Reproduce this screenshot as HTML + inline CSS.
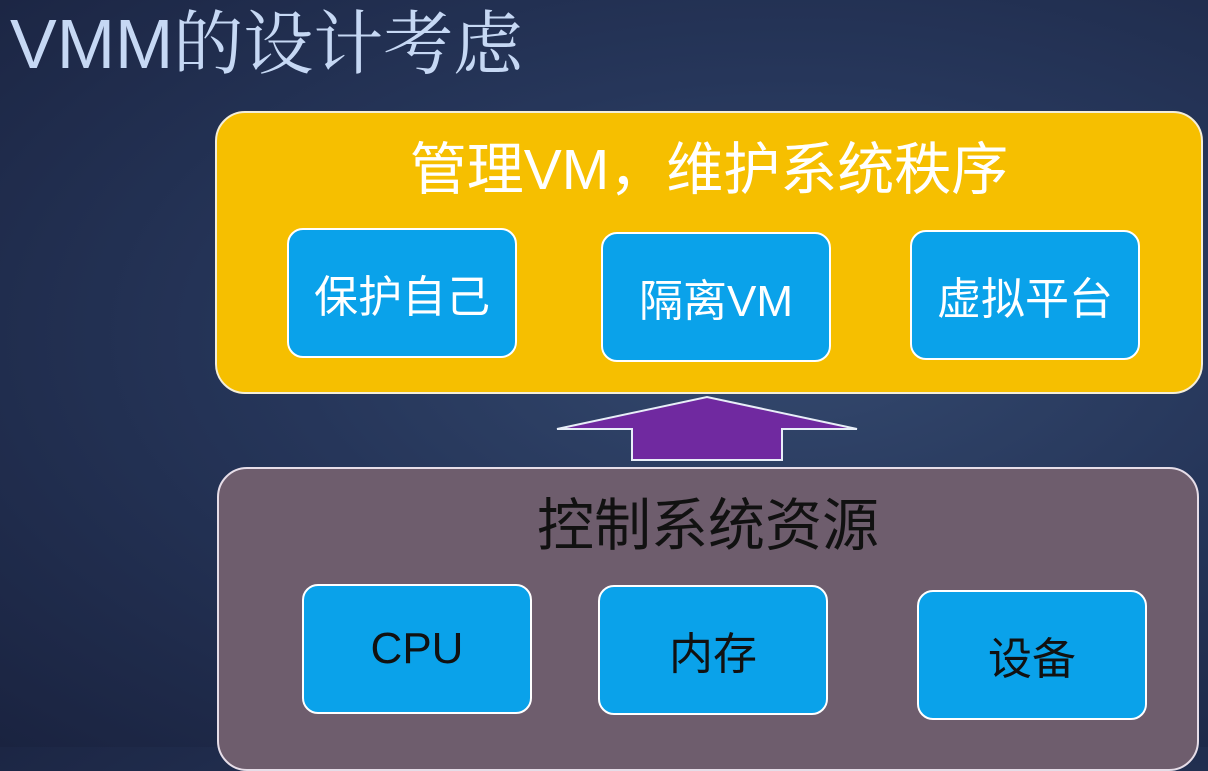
<!DOCTYPE html>
<html><head><meta charset="utf-8"><style>
html,body{margin:0;padding:0}
body{width:1208px;height:747px;overflow:hidden;position:relative;font-family:"Liberation Sans","Noto Sans CJK SC",sans-serif;
background:radial-gradient(ellipse at 65% 45%,#34496e 0%,#26365a 45%,#1a2340 100%);}
.t{position:absolute;left:10px;top:4px;font-size:70px;color:#c6d8f4;font-family:"Liberation Sans","Noto Serif CJK SC",serif;line-height:80px;white-space:nowrap}
.y{position:absolute;left:215px;top:111px;width:984px;height:279px;background:#f6bf00;border:2px solid #f4eed8;border-radius:30px}
.b{position:absolute;left:217px;top:467px;width:978px;height:300px;background:#6e5d6d;border:2px solid #e6dde8;border-radius:30px}
.h{position:absolute;font-size:57px;text-align:center;line-height:64px;white-space:nowrap}
.bx{position:absolute;width:226px;height:126px;background:#0aa2ea;border:2px solid #fff;border-radius:16px;display:flex;align-items:center;justify-content:center;font-size:44px}
</style></head><body>
<div class="t">VMM的设计考虑</div>
<div class="y"></div>
<div class="h" style="left:215px;width:988px;top:138px;color:#fff">管理VM，维护系统秩序</div>
<div class="bx" style="left:287px;top:228px;color:#fff">保护自己</div>
<div class="bx" style="left:601px;top:232px;color:#fff">隔离VM</div>
<div class="bx" style="left:910px;top:230px;color:#fff">虚拟平台</div>
<svg style="position:absolute;left:0;top:0" width="1208" height="747"><polygon points="557,429 707,397 857,429 782,429 782,460 632,460 632,429" fill="#7029a0" stroke="#e8eef8" stroke-width="2"/></svg>
<div class="b"></div>
<div class="h" style="left:217px;width:982px;top:494px;color:#111">控制系统资源</div>
<div class="bx" style="left:302px;top:584px;color:#111">CPU</div>
<div class="bx" style="left:598px;top:585px;color:#111">内存</div>
<div class="bx" style="left:917px;top:590px;color:#111">设备</div>
</body></html>
